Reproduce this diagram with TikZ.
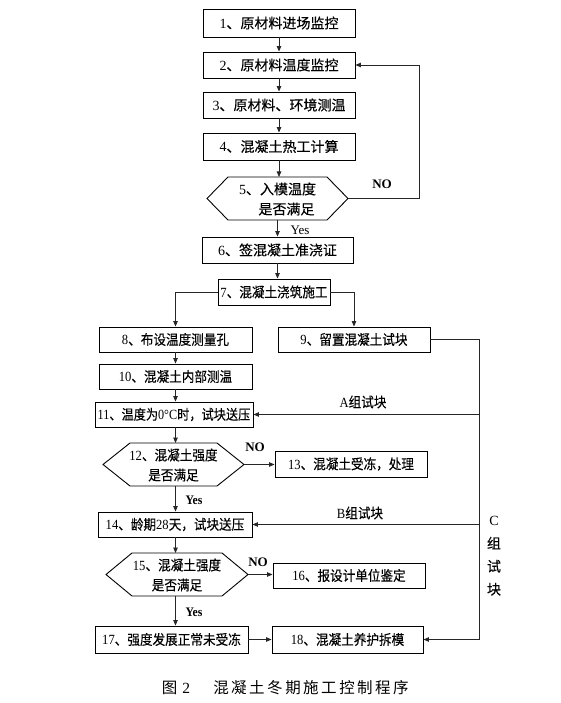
\documentclass[tikz,border=0pt]{standalone}
\usepackage{fontspec}
\usepackage{graphicx}
\setmainfont{Liberation Serif}
\newfontfamily\cjk[FakeBold=0.3]{Noto Sans CJK SC}
\newfontfamily\cjkcap{Noto Sans CJK SC}
\usetikzlibrary{arrows.meta,calc}
\newcommand\sq[1]{\scalebox{0.9}[1]{#1}}
\newcommand\hexa[5]{%
  \coordinate (#1L) at (#2-#4,#3);
  \coordinate (#1R) at (#2+#4,#3);
  \coordinate (#1T) at (#2,#3-21.5);
  \coordinate (#1B) at (#2,#3+21.5);
  \draw[shapeline] (#1L) -- (#2-#4+#5,#3-21.5) -- (#2+#4-#5,#3-21.5) -- (#1R)
     -- (#2+#4-#5,#3+21.5) -- (#2-#4+#5,#3+21.5) -- cycle;}
\begin{document}
\begin{tikzpicture}[x=1pt,y=-1pt,
  shapeline/.style={line width=0.9pt, draw=black},
  box/.style={draw=black, line width=0.9pt, inner sep=0pt, font=\fontsize{14}{16}\selectfont},
  htext/.style={inner sep=0pt, align=center, font=\fontsize{14}{20}\selectfont},
  arr/.style={line width=0.8pt, draw=black!85, -{Triangle[length=5.5pt,width=4.5pt]}},
  ln/.style={line width=0.8pt, draw=black!85},
  lbl/.style={inner sep=0pt, font=\fontsize{13}{15}\selectfont}]
\useasboundingbox (0,0) rectangle (560,703);
% top boxes
\node[box, minimum width=152pt, minimum height=28pt] (b1) at (279,23) {1\cjk、原材料进场监控};
\node[box, minimum width=152pt, minimum height=26pt] (b2) at (279,65) {2\cjk、原材料温度监控};
\node[box, minimum width=152pt, minimum height=26pt] (b3) at (279,105) {3\cjk、原材料、环境测温};
\node[box, minimum width=152pt, minimum height=27pt] (b4) at (279,146.5) {4\cjk、混凝土热工计算};
\hexa{h5}{277.5}{198.5}{70.5}{21}
\node[htext] (h5) at (277.5,199) {5\cjk、入模温度\\\hspace*{18pt}\cjk 是否满足};
\node[box, minimum width=151pt, minimum height=26pt] (b6) at (277.5,250) {6\cjk、签混凝土准浇证};
\node[box, minimum width=112pt, minimum height=26pt] (b7) at (274,292) {\sq{7\cjk、混凝土浇筑施工}};
\node[box, minimum width=153pt, minimum height=25pt] (b8) at (175.5,339.5) {\sq{8\cjk、布设温度测量孔}};
\node[box, minimum width=152pt, minimum height=25pt] (b9) at (354,339.5) {\sq{9\cjk、留置混凝土试块}};
\node[box, minimum width=153pt, minimum height=25pt] (b10) at (175.5,376.5) {\sq{10\cjk、混凝土内部测温}};
\node[box, minimum width=158pt, minimum height=25pt] (b11) at (174,414.5) {\scalebox{0.87}[1]{11\cjk、温度为{\rmfamily 0°C}时，试块送压}};
\hexa{h12}{173.5}{464.5}{70.5}{27}
\node[htext] (h12) at (173.5,465) {\sq{12\cjk、混凝土强度}\\\sq{\cjk 是否满足}};
\node[box, minimum width=152pt, minimum height=26pt] (b13) at (351,464) {\sq{13\cjk、混凝土受冻，处理}};
\node[box, minimum width=154pt, minimum height=25pt] (b14) at (175,524.5) {\sq{14\cjk、龄期{\rmfamily 28}天，试块送压}};
\hexa{h15}{177}{574.5}{71}{26}
\node[htext] (h15) at (177,575) {\sq{15\cjk、混凝土强度}\\\sq{\cjk 是否满足}};
\node[box, minimum width=152pt, minimum height=25pt] (b16) at (349,575.5) {\sq{16\cjk、报设计单位鉴定}};
\node[box, minimum width=153pt, minimum height=27pt] (b17) at (171.5,639.5) {\sq{17\cjk、强度发展正常未受冻}};
\node[box, minimum width=151pt, minimum height=27pt] (b18) at (347.5,639.5) {\sq{18\cjk、混凝土养护拆模}};
% labels
\node[lbl, font=\fontsize{13}{15}\selectfont\bfseries] (no5) at (382,184) {NO};
\node[lbl] (yes5) at (300,230) {Yes};
\node[lbl, font=\fontsize{13}{15}\selectfont\bfseries] (no12) at (255,447) {NO};
\node[lbl, font=\fontsize{13}{15}\selectfont\bfseries] (yes12) at (194,500) {\sq{Yes}};
\node[lbl, font=\fontsize{13}{15}\selectfont\bfseries] (no15) at (258,562) {NO};
\node[lbl, font=\fontsize{13}{15}\selectfont\bfseries] (yes15) at (194,612) {\sq{Yes}};
\node[lbl, font=\fontsize{14}{16}\selectfont] (la) at (363,402) {\sq{A\cjk 组试块}};
\node[lbl, font=\fontsize{14}{16}\selectfont] (lb) at (360,513) {\sq{B\cjk 组试块}};
\node[lbl, align=center, font=\fontsize{14}{23}\selectfont] (lc) at (494,556) {C\\\cjk 组\\\cjk 试\\\cjk 块};
% caption
\node[inner sep=0pt, font=\fontsize{15.5}{17}\selectfont] (cap1) at (176,688) {\cjkcap 图\kern5pt{\rmfamily 2}};
\node[inner sep=0pt, font=\fontsize{15.5}{17}\selectfont] (cap2) at (311,688) {\cjkcap 混\kern2.5pt凝\kern2.5pt土\kern2.5pt冬\kern2.5pt期\kern2.5pt施\kern2.5pt工\kern2.5pt控\kern2.5pt制\kern2.5pt程\kern2.5pt序};
% coordinates
\coordinate (fb) at (419,198.5);
\coordinate (rc) at (479,639.5);
\coordinate (ra) at (479,414.5);
\coordinate (rb) at (479,524.5);
% connectors
\draw[arr] (b1.south) -- (b2.north);
\draw[arr] (b2.south) -- (b3.north);
\draw[arr] (b3.south) -- (b4.north);
\draw[arr] (b4.south) -- (b4.south |- h5T);
\draw[arr] (h5R) -- (fb) |- (b2.east);
\draw[arr] (h5B) -- (h5B |- b6.north);
\draw[arr] (b6.south) -- (b6.south |- b7.north);
\draw[arr] (b7.west) -| (b8.north);
\draw[arr] (b7.east) -| (b9.north);
\draw[arr] (b8.south) -- (b8.south |- b10.north);
\draw[arr] (b10.south) -- (b10.south |- b11.north);
\draw[arr] (b11.south -| b8.south) -- (h12T -| b8.south);
\draw[arr] (h12R) -- (h12R -| b13.west);
\draw[arr] (h12B -| b8.south) -- (b14.north -| b8.south);
\draw[arr] (b14.south -| b8.south) -- (h15T -| b8.south);
\draw[arr] (h15R) -- (h15R -| b16.west);
\draw[arr] (h15B -| b8.south) -- (b17.north -| b8.south);
\draw[arr] (b17.east) -- (b18.west);
\draw[arr] (b9.east) -| (rc) -- (b18.east);
\draw[arr] (ra) -- (b11.east);
\draw[arr] (rb) -- (b14.east);
\end{tikzpicture}
\end{document}
